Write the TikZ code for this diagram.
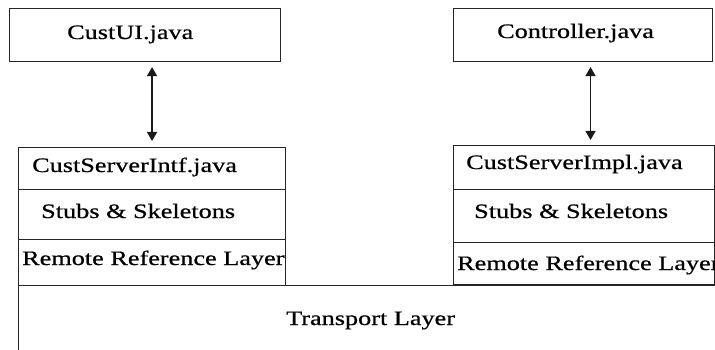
\documentclass[tikz,border=0pt]{standalone}
\usepackage{fontspec}
\setmainfont{Liberation Serif}[FakeStretch=1.28,FakeBold=0.6]
\usetikzlibrary{arrows.meta}
\begin{document}
\begin{tikzpicture}[x=1pt,y=-1pt,
  box/.style={draw=black!85,line width=1.1pt,rectangle,inner sep=0pt,anchor=north west},
  lbl/.style={anchor=base west,inner sep=0pt,font=\fontsize{20.5}{24}\selectfont},
  arr/.style={{Triangle[length=9pt,width=10pt]}-{Triangle[length=9pt,width=10pt]},line width=1.4pt,black!90}]
\useasboundingbox (0,0) rectangle (715,350);
\clip (0,0) rectangle (715,350);
\fill[white] (0,0) rectangle (715,350);
% top boxes
\node[box,minimum width=271pt,minimum height=53pt] (custui) at (9,8) {};
\node[box,minimum width=259pt,minimum height=53pt] (ctrl) at (453,8) {};
% left stack
\node[box,minimum width=267pt,minimum height=42pt] (lintf) at (18,147) {};
\node[box,minimum width=267pt,minimum height=50pt] (lstub) at (18,189) {};
\node[box,minimum width=267pt,minimum height=46pt] (lrrl) at (18,239) {};
% right stack
\node[box,minimum width=261pt,minimum height=44pt] (rimpl) at (453,145) {};
\node[box,minimum width=261pt,minimum height=53pt] (rstub) at (453,189) {};
\node[box,minimum width=261pt,minimum height=42pt] (rrrl) at (453,242) {};
% transport
\node[box,minimum width=720pt,minimum height=80pt] (trans) at (18,285) {};
% labels
\node[lbl] (t1) at (67,39) {CustUI.java};
\node[lbl] (t2) at (497,38) {Controller.java};
\node[lbl] (t3) at (32,172) {CustServerIntf.java};
\node[lbl] (t4) at (41,218) {Stubs \& Skeletons};
\node[lbl] (t5) at (22,265) {Remote Reference Layer};
\node[lbl] (t6) at (466,169) {CustServerImpl.java};
\node[lbl] (t7) at (474,218) {Stubs \& Skeletons};
\node[lbl] (t8) at (457,270) {Remote Reference Layer};
\node[lbl] (t9) at (286,325) {Transport Layer};
% arrows
\path (lintf.north |- custui.south) ++(0,5) coordinate (a1);
\path (lintf.north) ++(0,-6) coordinate (a2);
\draw[arr] (a1) -- (a2);
\path ([xshift=6.5pt]rimpl.north |- ctrl.south) ++(0,5) coordinate (b1);
\path ([xshift=6.5pt]rimpl.north) ++(0,-5) coordinate (b2);
\draw[arr] (b1) -- (b2);
\end{tikzpicture}
\end{document}
